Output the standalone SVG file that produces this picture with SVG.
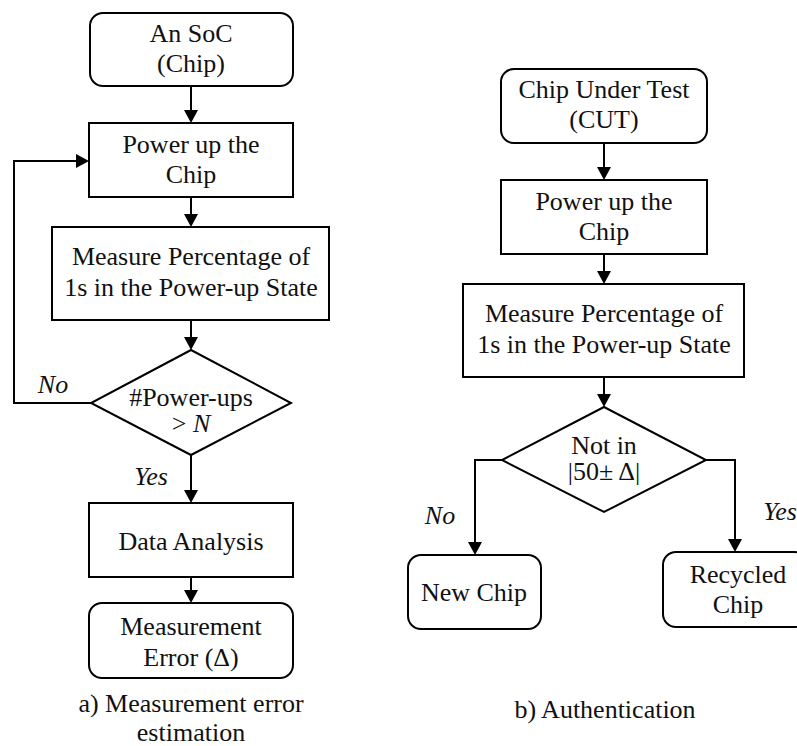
<svg xmlns="http://www.w3.org/2000/svg" width="797" height="746" viewBox="0 0 797 746">
<defs>
<marker id="ah" markerUnits="userSpaceOnUse" markerWidth="14" markerHeight="14" refX="11" refY="7" orient="auto">
<path d="M0,0 L13,7 L0,14 z" fill="#000"/>
</marker>
<style>
.box{fill:#fff;stroke:#000;stroke-width:2}
.t{font-size:26px;fill:#111;text-anchor:middle}
.i{font-style:italic}
.c{fill:none;stroke:#000;stroke-width:2;marker-end:url(#ah)}
</style>
</defs>
<rect width="797" height="746" fill="#fff"/>
<g id="connectors">
<path class="c" d="M191,86 V121"/>
<path class="c" d="M191,197 V225"/>
<path class="c" d="M191,320 V348"/>
<path class="c" d="M91,403 H14 V161 H87"/>
<path class="c" d="M191,454 V501"/>
<path class="c" d="M191,577 V601"/>
<path class="c" d="M604,143 V178"/>
<path class="c" d="M604,254 V282"/>
<path class="c" d="M604,377 V405"/>
<path class="c" d="M502,460 H475 V553"/>
<path class="c" d="M706,460 H735 V550"/>
</g>
<g font-family="Liberation Serif, Tinos, Times New Roman, DejaVu Serif, serif">
<g id="a_soc"><rect class="box" x="90" y="13" width="203" height="73" rx="13"/>
<text class="t" x="191" y="42">An SoC</text><text class="t" x="191" y="72">(Chip)</text></g>
<g id="a_power"><rect class="box" x="89" y="123" width="204" height="74"/>
<text class="t" x="191" y="153">Power up the</text><text class="t" x="191" y="183">Chip</text></g>
<g id="a_measure"><rect class="box" x="52" y="227" width="277" height="93"/>
<text class="t" x="191" y="265">Measure Percentage of</text><text class="t" x="191" y="296">1s in the Power-up State</text></g>
<g id="a_decision"><polygon class="box" points="191,350 291,403 191,455 91,403"/>
<text class="t" x="191" y="406">#Power-ups</text><text class="t" x="191" y="432">&gt; <tspan class="i">N</tspan></text></g>
<g id="a_labels"><text class="t i" x="53" y="393">No</text><text class="t i" x="151" y="485">Yes</text></g>
<g id="a_data"><rect class="box" x="89" y="503" width="204" height="74"/>
<text class="t" x="191" y="550">Data Analysis</text></g>
<g id="a_error"><rect class="box" x="89" y="603" width="204" height="75" rx="13"/>
<text class="t" x="191" y="635">Measurement</text><text class="t" x="191" y="666">Error (Δ)</text></g>
<g id="a_caption"><text class="t" x="191" y="712">a) Measurement error</text><text class="t" x="191" y="741">estimation</text></g>
<g id="b_cut"><rect class="box" x="501" y="69" width="206" height="74" rx="13"/>
<text class="t" x="604" y="98">Chip Under Test</text><text class="t" x="604" y="128">(CUT)</text></g>
<g id="b_power"><rect class="box" x="501" y="180" width="206" height="74"/>
<text class="t" x="604" y="210">Power up the</text><text class="t" x="604" y="240">Chip</text></g>
<g id="b_measure"><rect class="box" x="463" y="284" width="281" height="93"/>
<text class="t" x="604" y="322">Measure Percentage of</text><text class="t" x="604" y="353">1s in the Power-up State</text></g>
<g id="b_decision"><polygon class="box" points="604,407 706,460 604,512 502,460"/>
<text class="t" x="604" y="454">Not in</text><text class="t" x="604" y="480">|50± Δ|</text></g>
<g id="b_labels"><text class="t i" x="440" y="524">No</text><text class="t i" x="780" y="520">Yes</text></g>
<g id="b_new"><rect class="box" x="408" y="555" width="133" height="74" rx="13"/>
<text class="t" x="474" y="601">New Chip</text></g>
<g id="b_recycled"><rect class="box" x="663" y="552" width="144" height="75" rx="13"/>
<text class="t" x="738" y="583">Recycled</text><text class="t" x="738" y="613">Chip</text></g>
<g id="b_caption"><text class="t" x="605" y="718">b) Authentication</text></g>
</g>
</svg>
